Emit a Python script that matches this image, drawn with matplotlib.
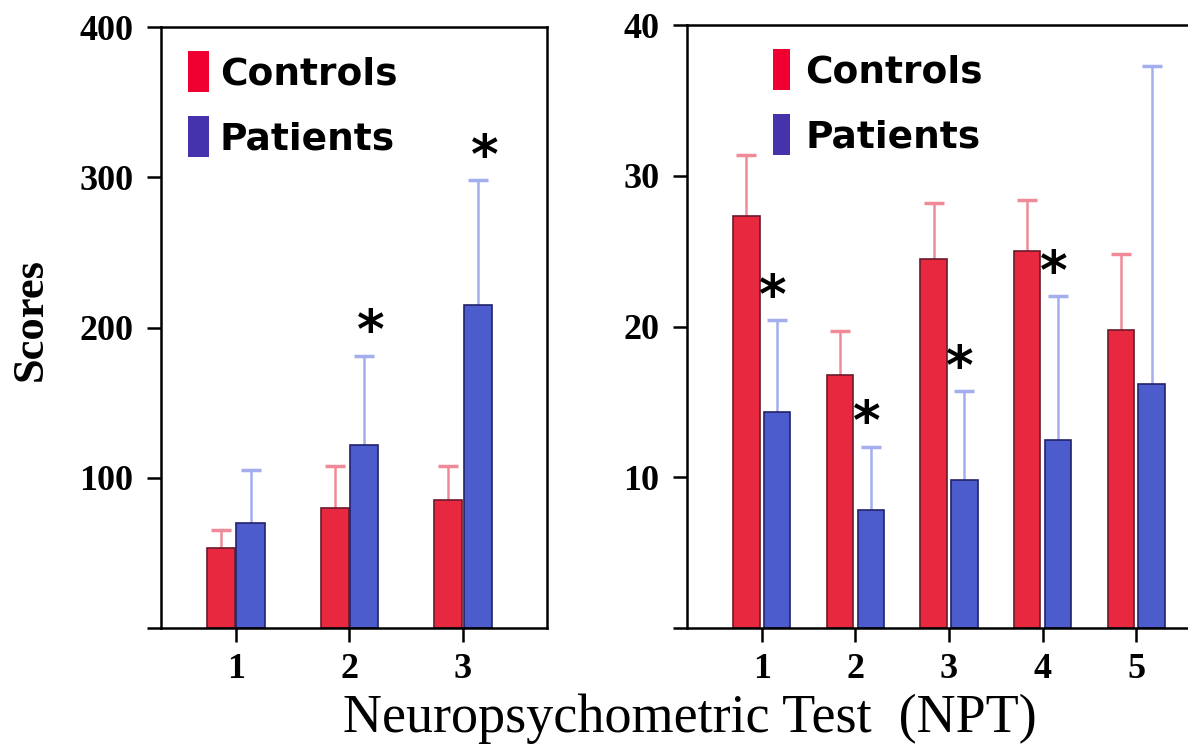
""" Scores des tests neuropsychométriques : témoins vs patients
"""
import matplotlib
matplotlib.use("Agg")
import matplotlib.pyplot as plt
from matplotlib.patches import Patch
import numpy as np


# panneau gauche (NPT 1-3)
tests_left = [1, 2, 3]
controls_left = [53, 80, 85]
controls_left_err = [12, 28, 23]
patients_left = [70, 122, 215]
patients_left_err = [35, 59, 83]
sig_left = [False, True, True]

# panneau droit (NPT 1-5)
tests_right = [1, 2, 3, 4, 5]
controls_right = [27.3, 16.8, 24.5, 25.0, 19.8]
controls_right_err = [4.1, 2.9, 3.7, 3.4, 5.0]
patients_right = [14.3, 7.8, 9.8, 12.5, 16.2]
patients_right_err = [6.1, 4.2, 5.9, 9.5, 21.1]
sig_right = [True, True, True, True, False]

RED = "#e8283f"
BLUE = "#4d5ccc"
RED_ERR = "#f08a98"
BLUE_ERR = "#a2aeee"

TICK_FONT = dict(family="Liberation Serif", weight="bold", size=26)


def panel(ax, x, c, c_err, p, p_err, sig, width, off, ymax, star_up, star_dx):
	""" Dessine un panneau de barres avec barres d'erreur
	"""
	x = np.array(x, dtype=float)
	bars = []
	bars.append(ax.bar(x - off, c, width, color=RED, edgecolor="#6a1a2a", linewidth=1.2,
		   yerr=[np.zeros(len(c)), c_err], ecolor=RED_ERR,
		   error_kw=dict(elinewidth=1.8, capsize=7, capthick=2.5, zorder=1), zorder=2))
	bars.append(ax.bar(x + off, p, width, color=BLUE, edgecolor="#22226a", linewidth=1.2,
		   yerr=[np.zeros(len(p)), p_err], ecolor=BLUE_ERR,
		   error_kw=dict(elinewidth=1.8, capsize=7, capthick=2.5, zorder=1), zorder=2))
	# pas de capuchon du bas
	for b in bars:
		b.errorbar.lines[1][0].set_visible(False)

	# astérisques de significativité
	for xi, pi, ei, s in zip(x, p, p_err, sig):
		if s:
			ax.annotate("*", xy=(xi + off, pi + ei + star_up), xytext=(star_dx, -14),
						textcoords="offset points", ha="center", va="baseline",
						fontsize=38, fontweight="bold", family="DejaVu Sans")

	ax.set_ylim(0, ymax)
	ticks = np.linspace(0, ymax, 5)
	ax.set_yticks(ticks)
	ax.set_yticklabels([""] + [f"{t:g}" for t in ticks[1:]], fontdict=TICK_FONT)
	ax.set_xticks(x)
	ax.set_xticklabels([str(int(t)) for t in x], fontdict=TICK_FONT)
	ax.tick_params(direction="out", length=10, width=1.8, pad=8)
	ax.tick_params(axis="y", pad=10)
	for sp in ax.spines.values():
		sp.set_linewidth(1.8)

	handles = [Patch(facecolor="#f00030", edgecolor="none", label="Controls"),
			   Patch(facecolor="#4433aa", edgecolor="none", label="Patients")]
	return handles


fig = plt.figure(figsize=(11.88, 7.49), dpi=100)

ax1 = fig.add_axes([161 / 1188, 121 / 749, 386 / 1188, 601 / 749])
h = panel(ax1, tests_left, controls_left, controls_left_err, patients_left,
		  patients_left_err, sig_left, 0.25, 0.13, 400, 18, 5)
ax1.set_xlim(0.34, 3.74)
ax1.legend(handles=h, loc="upper left", bbox_to_anchor=(0.07, 0.96),
		   frameon=False, borderpad=0, borderaxespad=0, handlelength=0.55,
		   handleheight=1.3, handletextpad=0.3, labelspacing=0.65,
		   prop=dict(family="DejaVu Sans", weight="bold", size=27))

ax2 = fig.add_axes([687 / 1188, 121 / 749, 523 / 1188, 603 / 749])
h = panel(ax2, tests_right, controls_right, controls_right_err, patients_right,
		  patients_right_err, sig_right, 0.28, 0.165, 40, 1.8, -3)
ax2.set_xlim(0.2, 5.79)
ax2.spines["right"].set_visible(False)
ax2.legend(handles=h, loc="upper left", bbox_to_anchor=(0.165, 0.96),
		   frameon=False, borderpad=0, borderaxespad=0, handlelength=0.45,
		   handleheight=1.3, handletextpad=0.4, labelspacing=0.65,
		   prop=dict(family="DejaVu Sans", weight="bold", size=27))

fig.text(0.026, 0.573, "Scores", rotation=90, ha="center", va="center",
		 family="Liberation Serif", weight="bold", size=32)
fig.text(0.581, 0.04, "Neuropsychometric Test  (NPT)", ha="center", va="center",
		 family="Liberation Serif", size=39)

fig.savefig("out.png", dpi=100)
